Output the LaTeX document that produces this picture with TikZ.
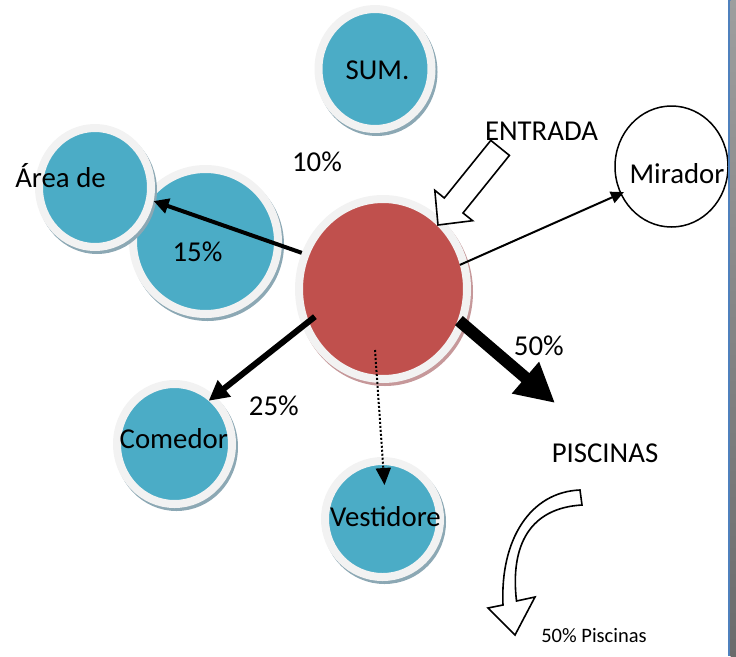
\documentclass[tikz,border=0pt]{standalone}
\usepackage{fontspec}
\setmainfont{Carlito}
\usetikzlibrary{arrows.meta,positioning,calc,shapes.geometric,shadows}
\definecolor{bubblue}{RGB}{75,172,198}
\definecolor{bubred}{RGB}{192,80,77}
\definecolor{ringgray}{RGB}{242,242,242}
\definecolor{shblue}{RGB}{140,168,180}
\definecolor{shred}{RGB}{198,152,154}
\definecolor{edgeblue}{RGB}{79,129,189}

\begin{document}
\begin{tikzpicture}[
		x=1pt,y=-1pt,
		bubble/.style={
			ellipse,
			draw=ringgray,
			line width=8pt,
			fill=bubblue,
			inner sep=0pt,
			drop shadow={shadow xshift=2pt,shadow yshift=-3pt,opacity=1,fill=#1,draw=#1,line width=8pt}
		},
		bubble/.default=shblue,
		txt/.style={anchor=base,inner sep=0pt,font=\fontsize{28.8}{33}\selectfont},
		small/.style={anchor=base,inner sep=0pt,font=\fontsize{20.5}{24}\selectfont},
		hollow/.style={draw=black,line width=1.6pt,fill=white},
		link/.style={draw=black}
	]
	\useasboundingbox (0,0) rectangle (736,656);
	
	% bubbles
	\node[bubble,minimum width=113pt,minimum height=120pt] (sum) at (375,69) {};
	\node[bubble,minimum width=145pt,minimum height=145pt] (big) at (205.5,241.5) {};
	\node[bubble,minimum width=112pt,minimum height=119pt] (area) at (95,187.5) {};
	\node[bubble=shred,fill=bubred,minimum width=168pt,minimum height=180pt] (core) at (383,289) {};
	\node[bubble,minimum width=115pt,minimum height=120pt] (comedor) at (174.5,444) {};
	\node[bubble,minimum width=115pt,minimum height=116pt] (vest) at (382.5,519) {};
	\node[ellipse,draw,line width=1.5pt,fill=white,inner sep=0pt,
		minimum width=113pt,minimum height=121pt] (mirador) at (671.5,166.5) {};
	
	% arrows
	\draw[link,line width=4pt,-{Triangle[length=15pt,width=15pt]}] (core.156) -- (area.-13);
	\draw[link,line width=2pt,-{Triangle[length=13pt,width=12pt]},
		shorten <=-8pt,shorten >=-4pt] (core.18) -- (mirador.208);
	\draw[link,line width=6pt,-{Triangle[length=20pt,width=20pt]},
		shorten <=-16pt,shorten >=-8pt] (core.205) -- (comedor.50);
	\draw[link,line width=2pt,dotted,-{Triangle[length=17pt,width=15pt]}]
		($(core.center)+(-8,61)$) -- ($(vest.center)+(2,-34)$);
	\coordinate (piscend) at (555,403);
	\draw[link,line width=12pt,-{Triangle[length=39pt,width=39pt]},shorten <=-7pt] (core.-24) -- (piscend);
	
	% hollow arrows
	\draw[hollow] (490.8,140.4) -- (444.3,198.0) -- (434.8,190.3) -- (438,225)
		-- (472.6,220.7) -- (463,213) -- (509.4,155.4) -- cycle;
	\draw[hollow] (580,490) .. controls (530,492) and (500,540) .. (503,605)
		-- (488,608) -- (515,635) -- (535,597) -- (516.5,601)
		.. controls (510,545) and (530,508) .. (582,505) -- cycle;
	
	% texts
	\node[txt] (sumtxt) at (377.5,79) {SUM.};
	\node[txt] (areatxt) at (60.5,187.7) {Área de};
	\node[txt] (bigtxt) at (197.5,261) {15\%};
	\node[txt] (tentxt) at (317,171) {10\%};
	\node[txt] (entxt) at (541.5,140.7) {ENTRADA};
	\node[txt] (mirtxt) at (677,183.3) {Mirador};
	\node[txt] (fiftxt) at (538.8,355) {50\%};
	\node[txt] (twtxt) at (273.8,415) {25\%};
	\node[txt] (comtxt) at (173.8,448.3) {Comedor};
	\node[txt] (vesttxt) at (385.5,526.7) {Vestidore};
	\node[txt] (pisc) at (605,462.7) {PISCINAS};
	\node[small] (pisctxt) at (594,642.7) {50\% Piscinas};
	
	% page edge
	\fill[edgeblue] (728.3,0) rectangle (730.7,656);
	\shade[top color=black!38,bottom color=black!58] (730.7,0) rectangle (736,656);
	
\end{tikzpicture}
\end{document}
